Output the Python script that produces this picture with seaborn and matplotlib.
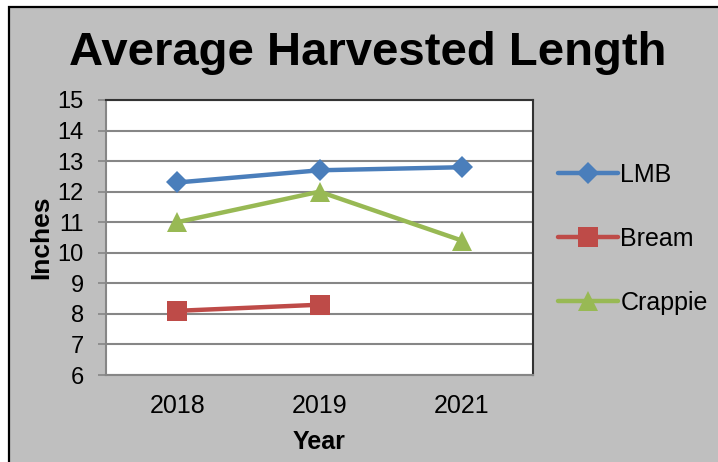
import matplotlib
matplotlib.use("Agg")
import matplotlib.pyplot as plt
import matplotlib.patches as patches
import seaborn as sns
import numpy as np
import pandas as pd

# chart data
years = ["2018", "2019", "2021"]
lmb = [12.3, 12.7, 12.8]
bream = [8.1, 8.3, np.nan]
crappie = [11.0, 12.0, 10.4]
series_names = ["LMB", "Bream", "Crappie"]

sns.set_style("white")
plt.rcParams["font.family"] = ["Liberation Sans", "DejaVu Sans"]
plt.rcParams["text.color"] = "black"
plt.rcParams["axes.labelcolor"] = "black"
plt.rcParams["xtick.color"] = "black"
plt.rcParams["ytick.color"] = "black"

df = pd.DataFrame({
    "Year": years * 3,
    "pos": list(range(len(years))) * 3,
    "Inches": lmb + bream + crappie,
    "Species": [s for s in series_names for _ in years],
})

colors = {"LMB": "#4a7ebb", "Bream": "#be4b48", "Crappie": "#98b954"}
markers = {"LMB": "D", "Bream": "s", "Crappie": "^"}
msizes = {"LMB": 11, "Bream": 14, "Crappie": 15}

fig = plt.figure(figsize=(7.18, 4.62), dpi=100)
fig.patch.set_facecolor("white")
# grey chart area with black frame
fig.patches.append(patches.Rectangle((9 / 718, -0.05), 1.0, 1 - 7 / 462 + 0.05,
                                     transform=fig.transFigure, facecolor="#bfbfbf",
                                     edgecolor="black", linewidth=1.6, zorder=-10))

ax = fig.add_axes([106 / 718, 87 / 462, 427 / 718, 275 / 462])
ax.set_facecolor("white")

for name in series_names:
    sub = df[df["Species"] == name].dropna()
    sns.lineplot(data=sub, x="pos", y="Inches", ax=ax, color=colors[name],
                 marker=markers[name], markersize=msizes[name], markeredgewidth=0,
                 linewidth=3.2, label=name, zorder=3)

ax.set_xlim(-0.5, len(years) - 0.5)
ax.set_ylim(6, 15)
ax.set_yticks(range(6, 16))
ax.yaxis.grid(True, color="#868686", linewidth=1.5)
ax.set_xticks(range(len(years)))
ax.set_xticklabels(years)
ax.set_xticks(np.arange(-0.5, len(years)), minor=True)
ax.tick_params(axis="x", which="major", length=0, pad=14, labelsize=18)
ax.tick_params(axis="x", which="minor", length=6, width=1.2, color="#868686", direction="out")
ax.tick_params(axis="y", length=6, width=1.2, color="#868686", labelsize=17, pad=10, left=True)
for side in ["left", "bottom"]:
    ax.spines[side].set_color("#868686")
    ax.spines[side].set_linewidth(1.5)
for side in ["top", "right"]:
    ax.spines[side].set_color("#333333")
    ax.spines[side].set_linewidth(1.5)

ax.set_xlabel("Year", fontsize=18, fontweight="bold", labelpad=8)
ax.set_ylabel("Inches", fontsize=19, fontweight="bold", labelpad=3)

fig.text(0.512, 1 - 53 / 462, "Average Harvested Length", ha="center", va="center",
         fontsize=34, fontweight="bold")

ax.legend(loc="center left", bbox_to_anchor=(548 / 718, 223 / 462),
          bbox_transform=fig.transFigure, frameon=False, fontsize=18,
          labelspacing=1.6, handlelength=2.4, handletextpad=0.1, borderaxespad=0)

fig.savefig("out.png", dpi=100, facecolor=fig.get_facecolor())
